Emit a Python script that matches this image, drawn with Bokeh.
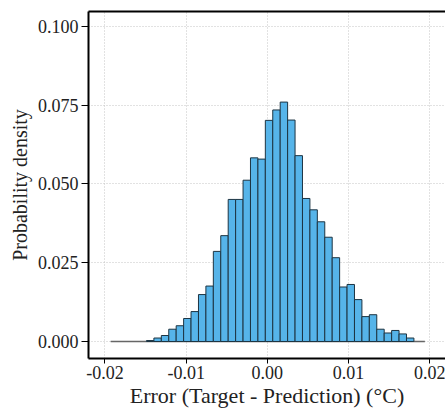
import numpy as np
from bokeh.plotting import figure
from bokeh.models import (Range1d, FixedTicker, PrintfTickFormatter, LinearAxis,
                          ColumnDataSource)
from bokeh.embed import file_html
from bokeh.resources import INLINE

# ---- data ----
bin_start = -0.01489
bin_width = 0.000915
densities = [0.0003, 0.0011, 0.0019, 0.0039, 0.0050, 0.0073, 0.0095, 0.0149,
             0.0176, 0.0286, 0.0336, 0.0451, 0.0451, 0.0512, 0.0583, 0.0579,
             0.0702, 0.0735, 0.0760, 0.0703, 0.0590, 0.0454, 0.0418, 0.0380,
             0.0331, 0.0266, 0.0173, 0.0181, 0.0133, 0.0079, 0.0085, 0.0039,
             0.0027, 0.0035, 0.0024, 0.0011]
data_min = -0.0193
data_max = 0.0194
x_ticks = [-0.02, -0.01, 0.00, 0.01, 0.02]
y_ticks = [0.000, 0.025, 0.050, 0.075, 0.100]

lefts = bin_start + bin_width * np.arange(len(densities))
src = ColumnDataSource(dict(left=lefts, right=lefts + bin_width,
                            top=densities, bottom=[0] * len(densities)))

FONT = "Liberation Serif"

p = figure(width=445, height=410, output_backend="svg", toolbar_location=None,
           x_range=Range1d(-0.02203, 0.02194), y_range=Range1d(-0.0054, 0.10476),
           min_border_left=88, min_border_right=0, min_border_top=11,
           min_border_bottom=52)
p.outline_line_color = None
p.background_fill_color = "white"

# grid
for g in (p.xgrid, p.ygrid):
    g.grid_line_color = "#c4c4c4"
    g.grid_line_dash = "1 2"
    g.grid_line_width = 1
p.xgrid.ticker = FixedTicker(ticks=x_ticks)
p.ygrid.ticker = FixedTicker(ticks=y_ticks)

# baseline of histogram
p.line([data_min, data_max], [0, 0], line_color="#666666", line_width=1.6)

p.quad(left="left", right="right", top="top", bottom="bottom", source=src,
       fill_color="#56B4E9", line_color="#1d3442", line_width=1)

# axes
xa = p.xaxis[0]
xa.ticker = FixedTicker(ticks=x_ticks)
xa.formatter = PrintfTickFormatter(format="%.2f")
xa.axis_label = "Error (Target - Prediction) (°C)"
ya = p.yaxis[0]
ya.ticker = FixedTicker(ticks=y_ticks)
ya.formatter = PrintfTickFormatter(format="%.3f")
ya.axis_label = "Probability density"

for ax in (xa, ya):
    ax.axis_line_color = "black"
    ax.axis_line_width = 2
    ax.major_tick_line_color = "black"
    ax.major_tick_line_width = 1
    ax.major_tick_in = 0
    ax.minor_tick_line_color = None
    ax.minor_tick_in = 0
    ax.minor_tick_out = 0
    ax.major_label_text_font = FONT
    ax.major_label_text_font_size = "18px"
    ax.major_label_text_color = "#222222"
    ax.axis_label_text_font = FONT
    ax.axis_label_text_font_style = "normal"
    ax.axis_label_text_color = "#222222"
xa.axis_label_text_font_size = "22px"
ya.axis_label_text_font_size = "20px"
xa.major_tick_out = 5
ya.major_tick_out = 7
xa.major_label_standoff = 2
ya.major_label_standoff = 3
xa.axis_label_standoff = 1
ya.axis_label_standoff = 4

top_axis = LinearAxis(ticker=FixedTicker(ticks=[]), axis_line_color="black",
                      axis_line_width=2, major_tick_line_color=None,
                      minor_tick_line_color=None, major_tick_in=0,
                      major_tick_out=0, minor_tick_in=0, minor_tick_out=0,
                      major_label_standoff=0, axis_label_standoff=0,
                      major_label_text_font_size="0px")
p.add_layout(top_axis, "above")

open("out.html", "w").write(file_html(p, INLINE))
